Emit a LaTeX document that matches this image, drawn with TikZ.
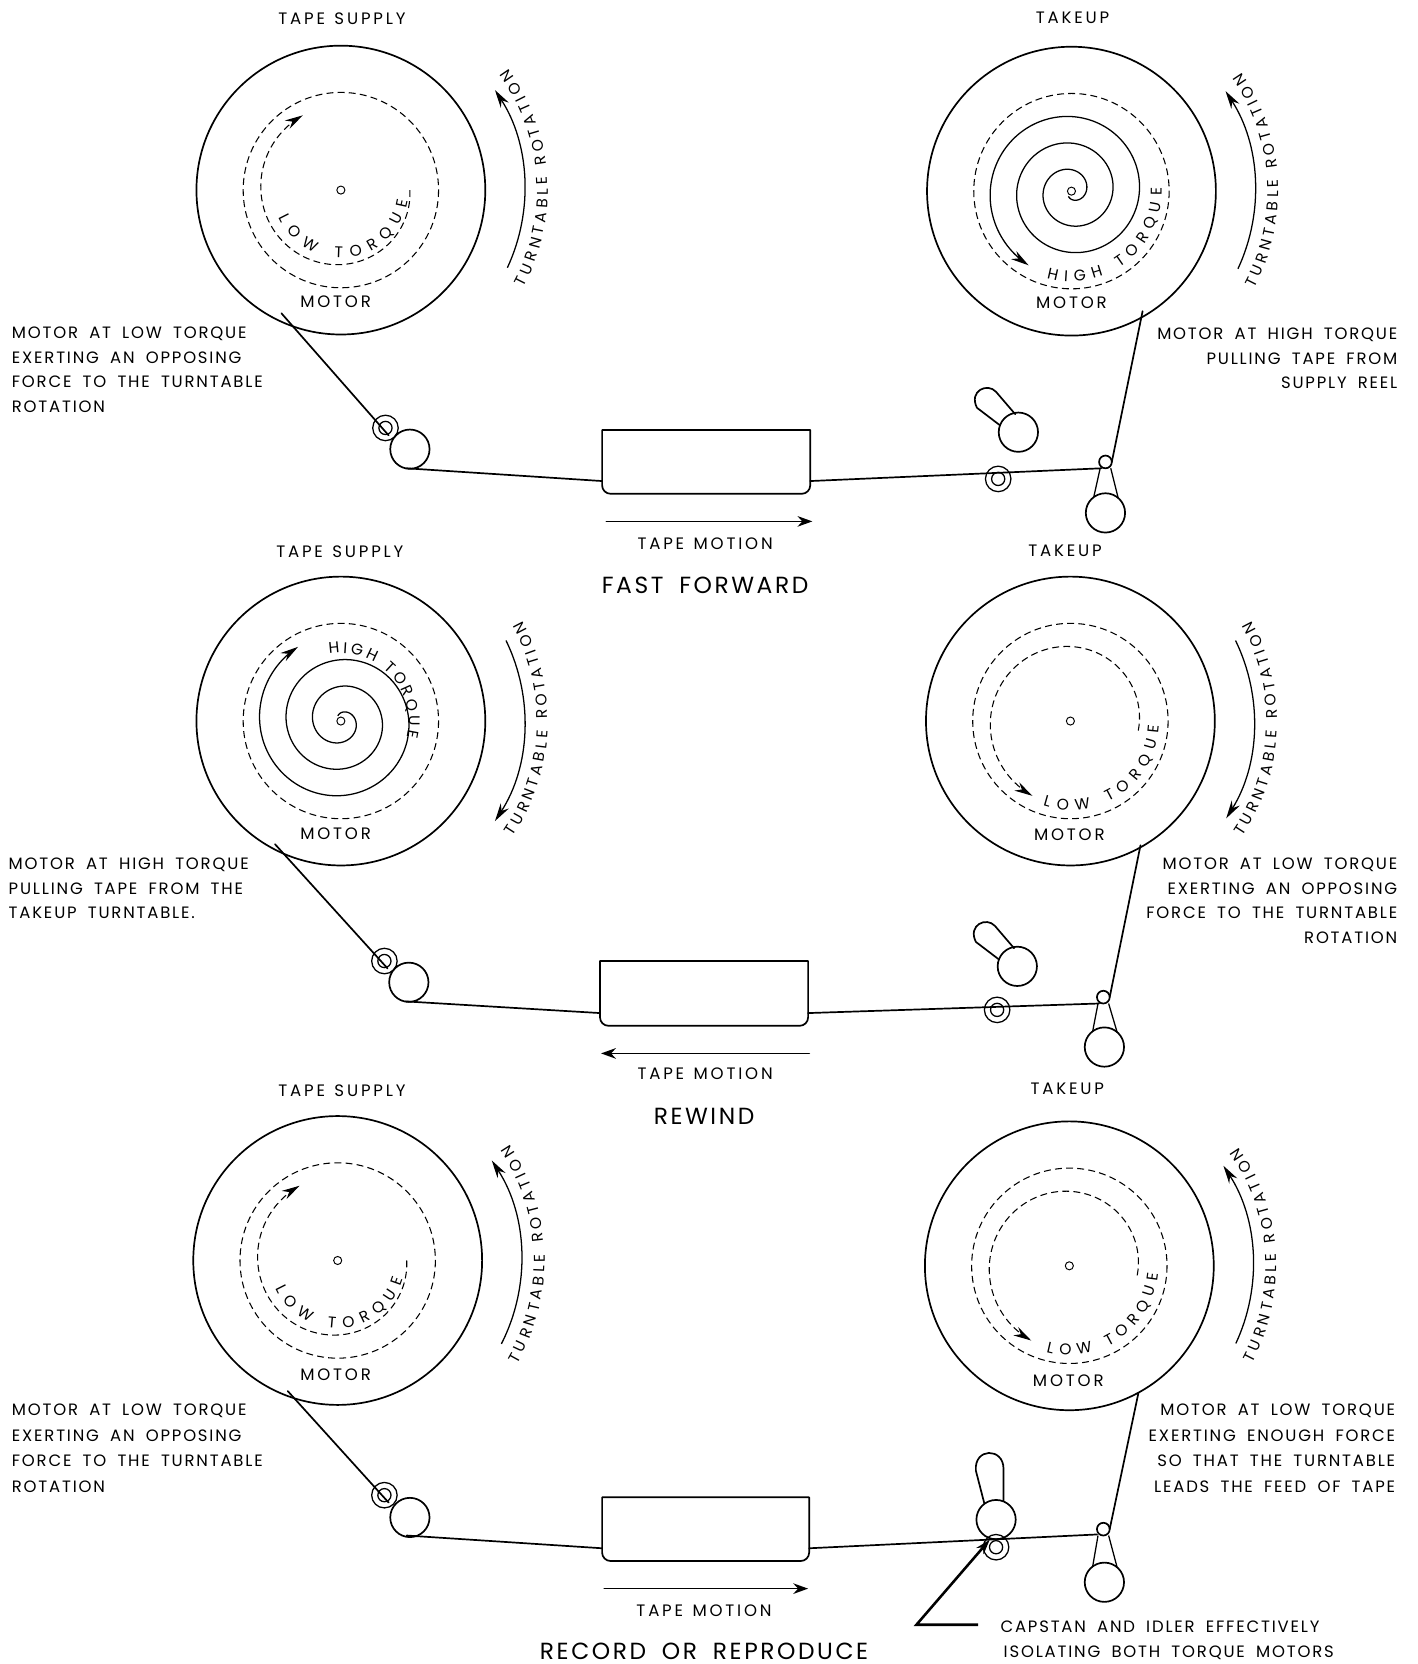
\documentclass[tikz,border=0pt]{standalone}
\usepackage{fontspec}
\setmainfont{Poppins}
\usetikzlibrary{arrows.meta,decorations.text,calc}
\newfontfamily\labfont[LetterSpace=11,WordSpace=1.8]{Poppins}
\newfontfamily\widefont[LetterSpace=17,WordSpace=1.3]{Poppins}
\newfontfamily\arcfont{Poppins}
% cx r cy a b : circular arc, angles measured counterclockwise on screen
\newcommand\arcp[5]{({#1+#2*cos(#4)},{#3-#2*sin(#4)}) arc[start angle={-(#4)},end angle={-(#5)},radius=#2]}
\tikzset{
  ln/.style={line width=1.6pt,line cap=round,line join=round},
  thn/.style={line width=1.2pt},
  dsh/.style={line width=1pt,dash pattern=on 6.5pt off 4pt},
  tip/.style={-{Stealth[length=17pt,width=9pt]}},
  mtip/.style={-{Stealth[length=14pt,width=10pt]}},
  lab/.style={inner sep=0pt,font=\fontsize{15.6}{15.6}\selectfont\widefont},
  note/.style={inner sep=0pt,font=\fontsize{15.5}{23}\selectfont\labfont},
  notew/.style={inner sep=0pt,font=\fontsize{15.5}{24}\selectfont\labfont},
  big/.style={inner sep=0pt,font=\fontsize{22}{22}\selectfont\labfont},
}
% reel: name, cx, cy
\newcommand\reel[3]{%
  \coordinate (#1) at (#2,#3);
  \draw[ln] (#1) circle[radius=136];
  \draw[line width=.9pt] (#1) circle[radius=3.8];
  \draw[dsh] (#1) circle[radius=92];
}
% turntable arrow: cx cy textA textB lineA lineB
\newcommand\turn[6]{%
  \draw[thn,tip] \arcp{#1}{173}{#2}{#5}{#6};
  \path[decorate,decoration={text along path,text align={fit to path},
    text={|\fontsize{14.6}{14.6}\selectfont\arcfont|TURNTABLE ROTATION}}]
    \arcp{#1}{195}{#2}{#3}{#4};
}
% text on arc: cx cy r a b text
\newcommand\arct[6]{%
  \path[decorate,decoration={text along path,text align={fit to path},
    text={|\fontsize{14.6}{14.6}\selectfont\arcfont|#6}}]
    \arcp{#1}{#3}{#2}{#4}{#5};
}
\newcommand\block[5]{%
  \draw[ln] (#2,#4) -- (#3,#4) -- (#3,#5-8) arc[start angle=0,end angle=90,radius=8]
     -- (#2+8,#5) arc[start angle=90,end angle=180,radius=8] -- cycle;
  \coordinate (#1l) at (#2,#5-12);
  \coordinate (#1r) at (#3,#5-12);
}
\newcommand\ring[3]{%
  \coordinate (#1) at (#2,#3);
  \draw[thn] (#1) circle[radius=12];
  \draw[thn] (#1) circle[radius=6.2];
}
\newcommand\bigc[3]{%
  \coordinate (#1) at (#2,#3);
  \draw[ln] (#1) circle[radius=18.5];
}
\newcommand\idler[5]{% name, small x y, big x y
  \coordinate (#1s) at (#2,#3);
  \coordinate (#1b) at (#4,#5);
  \draw[ln,fill=white] (#1s) circle[radius=6];
  \draw[ln] (#1b) circle[radius=18.5];
  \draw[thn] ($(#1s)+(-5,6)$) -- ($(#1b)+(-11,-15)$);
  \draw[thn] ($(#1s)+(5,6)$) -- ($(#1b)+(12,-14)$);
}
\begin{document}
\begin{tikzpicture}[x=1pt,y=-1pt]
\useasboundingbox (0,0) rectangle (1334.5,1567);
\fill[white] (0,0) rectangle (1334.5,1567);

%% ---------- PANEL 1
\node[lab] (t1a) at (322,18) {TAPE SUPPLY};
\node[lab] (t1b) at (1010,17) {TAKEUP};
\reel{r1a}{321}{179}
\reel{r1b}{1009}{180}
\node[lab] (m1a) at (316,284) {MOTOR};
\node[lab] (m1b) at (1009,285) {MOTOR};
\draw[dsh,tip] plot[smooth,domain=0:243,samples=50] ({321+(65+\x/243*14)*cos(\x)},{179+(65+\x/243*14)*sin(\x)});
\arct{321}{179}{64}{-156}{-9}{LOW TORQUE}
\draw[thn,tip] plot[smooth,domain=-120:960,samples=220] ({1009+(14+\x/360*25)*cos(\x)},{180-(14+\x/360*25)*sin(\x)});
\arct{1009}{180}{85}{-106}{2}{HIGH TORQUE}
\turn{321}{179}{-28}{36}{-25}{33}
\turn{1009}{180}{-28}{35}{-25}{33}
\node[note,anchor=north west,align=left] (n1a) at (11,308) {MOTOR AT LOW TORQUE\\EXERTING AN OPPOSING\\FORCE TO THE TURNTABLE\\ROTATION};
\node[note,anchor=north east,align=right] (n1b) at (1316,309) {MOTOR AT HIGH TORQUE\\PULLING TAPE FROM\\SUPPLY REEL};
\ring{g1a}{363}{403}
\bigc{c1a}{386}{423}
\block{h1}{567}{763}{405}{465}
\ring{g1b}{940}{451}
\idler{i1}{1041}{435}{1041}{483}
\bigc{p1}{959}{407}
\draw[ln] (956,390) -- (938,369) .. controls (930,360) and (912,368) .. (920,384) -- (941,400);
\draw[ln] (265,295) -- (366,410);
\draw[ln] (383,441) -- (h1l);
\draw[ln] (h1r) -- (1037,441);
\draw[ln] (1047,435) -- (1076,293);
\coordinate (a1s) at (571,491); \coordinate (a1e) at (765,491);
\draw[ln,mtip] (a1s) -- (a1e);
\node[lab] (tm1) at (664,512) {TAPE MOTION};
\node[big] (cap1) at (664,551) {FAST FORWARD};

%% ---------- PANEL 2
\node[lab] (t2a) at (320,520) {TAPE SUPPLY};
\node[lab] (t2b) at (1003,519) {TAKEUP};
\reel{r2a}{321}{679}
\reel{r2b}{1008}{679}
\node[lab] (m2a) at (316,785) {MOTOR};
\node[lab] (m2b) at (1007,786) {MOTOR};
\draw[thn,tip] plot[smooth,domain=-120:960,samples=220] ({321+(14+\x/360*25)*cos(\x)},{679+(14+\x/360*25)*sin(\x)});
\arct{321}{679}{64}{100}{-14}{HIGH TORQUE}
\draw[dsh,tip] plot[smooth,domain=-8:243,samples=50] ({1008+(65+\x/243*14)*cos(\x)},{679-(65+\x/243*14)*sin(\x)});
\arct{1008}{679}{84}{-108}{-3}{LOW TORQUE}
\turn{321}{679}{-34}{29}{26}{-33}
\turn{1008}{679}{-34}{29}{26}{-32}
\node[note,anchor=north west,align=left] (n2a) at (8,808) {MOTOR AT HIGH TORQUE\\PULLING TAPE FROM THE\\TAKEUP TURNTABLE.};
\node[note,anchor=north east,align=right] (n2b) at (1316,808) {MOTOR AT LOW TORQUE\\EXERTING AN OPPOSING\\FORCE TO THE TURNTABLE\\ROTATION};
\ring{g2a}{362}{905}
\bigc{c2a}{385}{925}
\block{h2}{565}{761}{905}{966}
\ring{g2b}{939}{951}
\idler{i2}{1039}{939}{1040}{986}
\bigc{p2}{958}{910}
\draw[ln] (955,893) -- (937,872) .. controls (929,863) and (911,871) .. (919,887) -- (940,903);
\draw[ln] (259,795) -- (365,912);
\draw[ln] (382,943) -- (h2l);
\draw[ln] (h2r) -- (1035,945);
\draw[ln] (1045,939) -- (1074,796);
\coordinate (a2s) at (762,992); \coordinate (a2e) at (566,992);
\draw[ln,mtip] (a2s) -- (a2e);
\node[lab] (tm2) at (664,1011) {TAPE MOTION};
\node[big] (cap2) at (663,1051) {REWIND};

%% ---------- PANEL 3
\node[lab] (t3a) at (322,1027) {TAPE SUPPLY};
\node[lab] (t3b) at (1005,1025) {TAKEUP};
\reel{r3a}{318}{1187}
\reel{r3b}{1007}{1192}
\node[lab] (m3a) at (316,1295) {MOTOR};
\node[lab] (m3b) at (1006,1300) {MOTOR};
\draw[dsh,tip] plot[smooth,domain=0:243,samples=50] ({318+(65+\x/243*14)*cos(\x)},{1187+(65+\x/243*14)*sin(\x)});
\arct{318}{1187}{64}{-156}{-16}{LOW TORQUE}
\draw[dsh,tip] plot[smooth,domain=-8:243,samples=50] ({1007+(65+\x/243*14)*cos(\x)},{1192-(65+\x/243*14)*sin(\x)});
\arct{1007}{1192}{84}{-105}{-5}{LOW TORQUE}
\turn{318}{1187}{-30}{34}{-27}{33}
\turn{1007}{1192}{-28}{35}{-25}{33}
\node[notew,anchor=north west,align=left] (n3a) at (11,1322) {MOTOR AT LOW TORQUE\\EXERTING AN OPPOSING\\FORCE TO THE TURNTABLE\\ROTATION};
\node[notew,anchor=north east,align=right] (n3b) at (1314,1322) {MOTOR AT LOW TORQUE\\EXERTING ENOUGH FORCE\\SO THAT THE TURNTABLE\\LEADS THE FEED OF TAPE};
\ring{g3a}{362}{1408}
\bigc{c3a}{386}{1429}
\block{h3}{567}{762}{1410}{1470}
\ring{g3b}{938}{1457}
\idler{i3}{1039}{1440}{1040}{1490}
\bigc{p3}{938}{1431}
\draw[ln] (945,1413) -- (945,1383) .. controls (945,1363) and (917,1363) .. (919,1385) -- (927,1416);
\draw[ln] (271,1310) -- (366,1415);
\draw[ln] (383,1446) -- (h3l);
\draw[ln] (h3r) -- (1033,1445);
\draw[ln] (1045,1440) -- (1072,1312);
\coordinate (a3s) at (569,1496); \coordinate (a3e) at (761,1496);
\draw[ln,mtip] (a3s) -- (a3e);
\node[lab] (tm3) at (663,1517) {TAPE MOTION};
\node[big] (cap3) at (663,1555) {RECORD OR REPRODUCE};
\coordinate (k1) at (921,1530); \coordinate (k2) at (863,1530); \coordinate (k3) at (932,1450);
\draw[line width=2.4pt,-{Stealth[length=14pt,width=9pt]}] (k1) -- (k2) -- (k3);
\node[note,anchor=west] (cap4) at (942,1532) {CAPSTAN AND IDLER EFFECTIVELY};
\node[note,anchor=west] (cap5) at (945,1556) {ISOLATING BOTH TORQUE MOTORS};
\end{tikzpicture}
\end{document}
